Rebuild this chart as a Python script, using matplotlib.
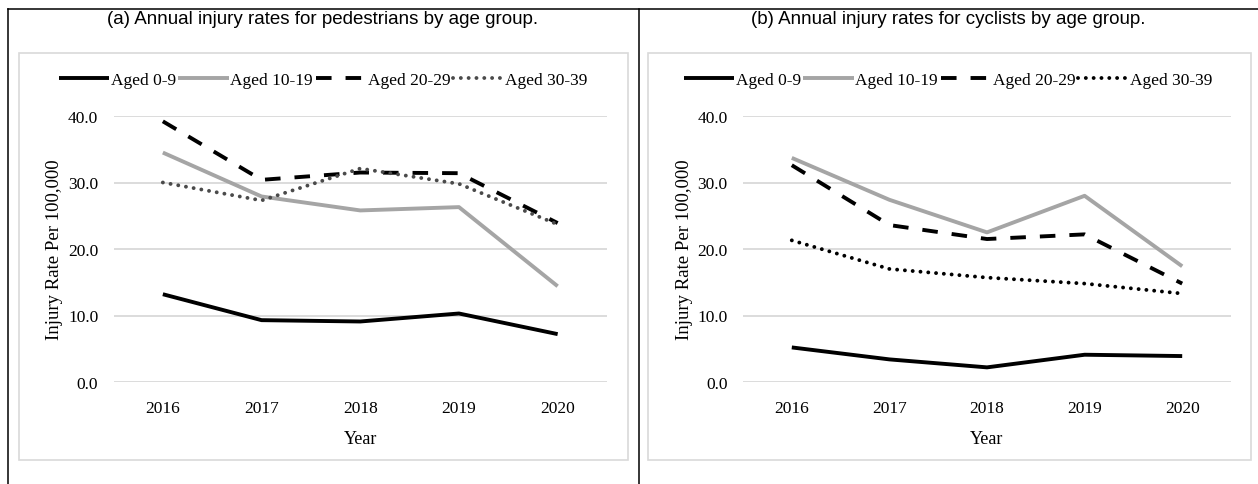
import matplotlib
matplotlib.use("Agg")
import matplotlib.pyplot as plt
from matplotlib.lines import Line2D
from matplotlib.patches import Rectangle

# data
years = ["2016", "2017", "2018", "2019", "2020"]
groups = ["Aged 0-9", "Aged 10-19", "Aged 20-29", "Aged 30-39"]

ped_0_9 = [13.2, 9.3, 9.1, 10.3, 7.2]
ped_10_19 = [34.5, 27.9, 25.8, 26.3, 14.4]
ped_20_29 = [39.2, 30.4, 31.5, 31.4, 23.9]
ped_30_39 = [30.0, 27.3, 32.1, 29.8, 23.7]

cyc_0_9 = [5.2, 3.4, 2.2, 4.1, 3.9]
cyc_10_19 = [33.7, 27.4, 22.5, 28.0, 17.4]
cyc_20_29 = [32.6, 23.6, 21.5, 22.2, 14.8]
cyc_30_39 = [21.3, 17.0, 15.7, 14.8, 13.3]

titles = ["(a) Annual injury rates for pedestrians by age group.",
          "(b) Annual injury rates for cyclists by age group."]

serif = "Liberation Serif"
sans = "Liberation Sans"
lw = 2.8

W, H = 1258, 485
fig = plt.figure(figsize=(W / 100, H / 100), dpi=100)


def fx(px):
    return px / W


def fy(py):
    return 1 - py / H


# outer table borders
for xs, ys in [([8, W], [10, 10]), ([8, 8], [10, H]), ([639, 639], [10, H])]:
    fig.add_artist(Line2D([fx(x) for x in xs], [fy(y) for y in ys], color="black", lw=1.1))

# light grey chart frames
for x0, x1 in [(19, 628), (648, 1251)]:
    fig.add_artist(Rectangle((fx(x0), fy(461)), fx(x1 - x0), (461 - 54) / H,
                             fill=False, edgecolor="#d9d9d9", lw=1.2))

panels = [
    (113.5, 607, [ped_0_9, ped_10_19, ped_20_29, ped_30_39], "#4a4a4a", 323, 63),
    (743, 1231, [cyc_0_9, cyc_10_19, cyc_20_29, cyc_30_39], "black", 948, 693),
]

for i, (x0, x1, series, dotcol, cx, ylab_x) in enumerate(panels):
    ax = fig.add_axes([fx(x0), fy(383), fx(x1 - x0), (383 - 117) / H])
    xs = range(len(years))
    ax.plot(xs, series[0], color="black", lw=lw, solid_capstyle="butt", label=groups[0])
    ax.plot(xs, series[1], color="#a5a5a5", lw=lw, solid_capstyle="butt", label=groups[1])
    ax.plot(xs, series[2], color="black", lw=lw, linestyle=(0, (4, 3.6)),
            dash_capstyle="butt", label=groups[2])
    ax.plot(xs, series[3], color=dotcol, lw=lw, linestyle=(0, (0.01, 2.0)),
            dash_capstyle="round", label=groups[3])

    ax.set_xlim(-0.5, 4.5)
    ax.set_ylim(0, 40)
    ax.set_yticks([0, 10, 20, 30, 40])
    ax.set_yticklabels([f"{v:.1f}" for v in [0, 10, 20, 30, 40]])
    ax.set_xticks(list(xs))
    ax.set_xticklabels(years)
    ax.grid(axis="y", color="#d9d9d9", lw=1.3)
    ax.set_axisbelow(True)
    for s in ax.spines.values():
        s.set_visible(False)
    ax.tick_params(length=0, labelsize=12.5)
    ax.tick_params(axis="y", pad=11)
    ax.tick_params(axis="x", pad=13)
    for lab in ax.get_xticklabels() + ax.get_yticklabels():
        lab.set_fontfamily(serif)

    ax.set_ylabel("Injury Rate Per 100,000", fontsize=13.5, family=serif)
    ax.yaxis.set_label_coords((ylab_x - x0) / (x1 - x0), 0.5)
    ax.set_xlabel("Year", fontsize=13, family=serif)
    ax.xaxis.set_label_coords(0.5, -(431 - 383) / 266)

    ax.legend(loc="center", bbox_to_anchor=(fx(cx), fy(81)), bbox_transform=fig.transFigure,
              ncol=4, frameon=False, handlelength=2.9, handletextpad=0.1, columnspacing=0.15,
              prop={"family": serif, "size": 12.5})

    fig.text(fx(cx), fy(19), titles[i], ha="center", va="center", family=sans, fontsize=13.5)

fig.savefig("out.png", dpi=100)
